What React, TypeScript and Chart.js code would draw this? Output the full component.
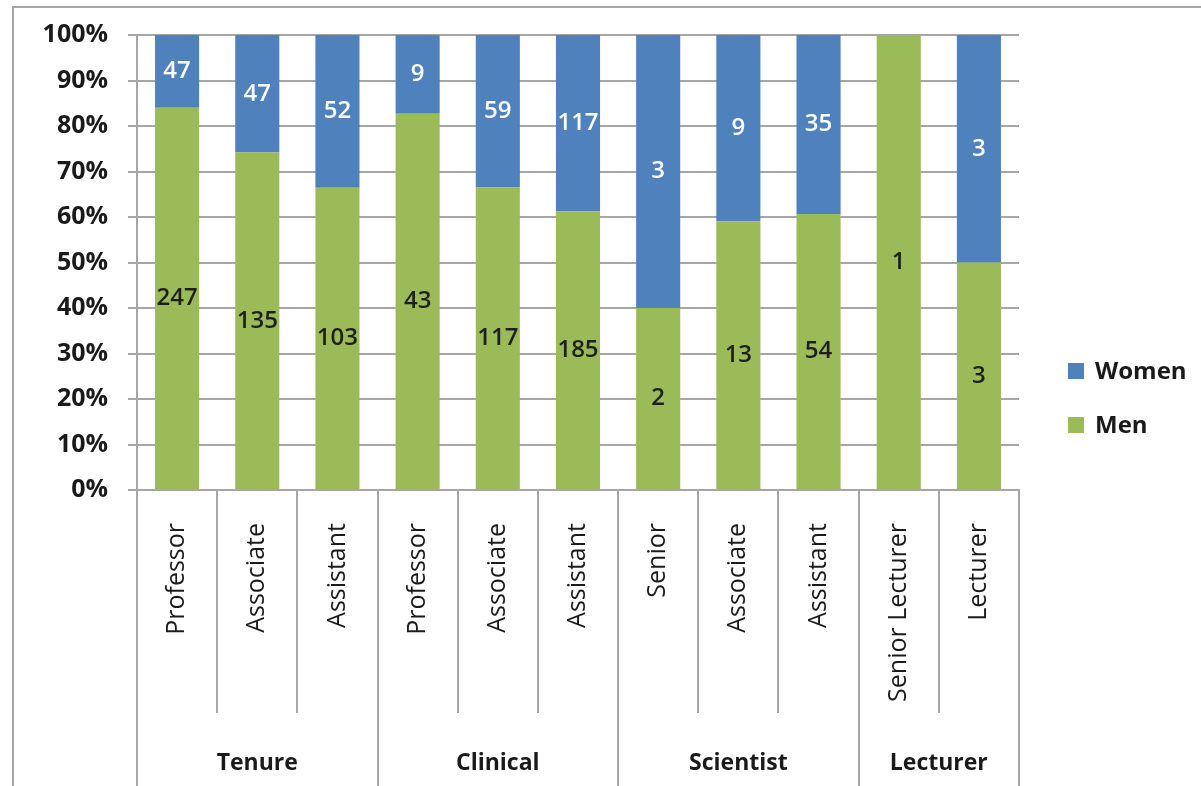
import { useEffect, useRef } from "react";
import { Chart, registerables } from "chart.js";

Chart.register(...registerables);

const categories = [
  "Professor", "Associate", "Assistant",
  "Professor", "Associate", "Assistant",
  "Senior", "Associate", "Assistant",
  "Senior Lecturer", "Lecturer",
];
const groupNames = ["Tenure", "Clinical", "Scientist", "Lecturer"];
const groupSizes = [3, 3, 3, 2];
const womenCounts = [47, 47, 52, 9, 59, 117, 3, 9, 35, 0, 3];
const menCounts = [247, 135, 103, 43, 117, 185, 2, 13, 54, 1, 3];
const seriesNames = ["Women", "Men"];
const seriesColors = ["#4f81bd", "#9bbb59"];

const FONT = "'Open Sans', 'Noto Sans', sans-serif";
const LINE = "#a6a6a6";

const womenPct = womenCounts.map((w, i) => (w / (w + menCounts[i])) * 100);
const menPct = menCounts.map((m, i) => (m / (womenCounts[i] + m)) * 100);

const decorPlugin = {
  id: "decor",
  afterDatasetsDraw(chart: any) {
    const ctx = chart.ctx;
    ctx.save();
    ctx.textAlign = "center";
    ctx.textBaseline = "middle";
    chart.data.datasets.forEach((ds: any, di: number) => {
      const meta = chart.getDatasetMeta(di);
      const counts = ds.counts as number[];
      meta.data.forEach((bar: any, i: number) => {
        if (!counts[i]) return;
        const cy = (bar.y + bar.base) / 2;
        ctx.fillStyle = ds.labelColor;
        ctx.font = `600 24px ${FONT}`;
        ctx.fillText(String(counts[i]), bar.x, cy);
      });
    });
    ctx.restore();
  },
  afterDraw(chart: any) {
    const ctx = chart.ctx;
    const area = chart.chartArea;
    const xs = chart.scales.x;
    const H = chart.height;
    ctx.save();
    // outer frame
    ctx.strokeStyle = LINE;
    ctx.lineWidth = 2;
    ctx.strokeRect(13, 7, chart.width + 50, H + 50);

    // category separators
    const n = categories.length;
    const boundary = (k: number) => {
      if (k === 0) return area.left;
      if (k === n) return area.right;
      return (xs.getPixelForValue(k - 1) + xs.getPixelForValue(k)) / 2;
    };
    const groupEdges = new Set<number>();
    let acc = 0;
    groupEdges.add(0);
    groupSizes.forEach((s) => {
      acc += s;
      groupEdges.add(acc);
    });
    ctx.strokeStyle = LINE;
    ctx.lineWidth = 2;
    for (let k = 0; k <= n; k++) {
      const x = Math.round(boundary(k));
      ctx.beginPath();
      ctx.moveTo(x, area.bottom);
      ctx.lineTo(x, groupEdges.has(k) ? H : area.bottom + 223);
      ctx.stroke();
    }
    // group labels
    ctx.fillStyle = "#1a1a1a";
    ctx.font = `bold 23px ${FONT}`;
    ctx.textAlign = "center";
    ctx.textBaseline = "middle";
    let start = 0;
    groupSizes.forEach((s, gi) => {
      const x0 = boundary(start);
      const x1 = boundary(start + s);
      ctx.fillText(groupNames[gi], (x0 + x1) / 2, area.bottom + 273);
      start += s;
    });

    // legend
    const lx = area.right + 49;
    const ly0 = 371;
    seriesNames.forEach((name, i) => {
      const ly = ly0 + i * 54;
      ctx.fillStyle = seriesColors[i];
      ctx.fillRect(lx, ly - 8, 16, 16);
      ctx.fillStyle = "#1a1a1a";
      ctx.font = `bold 24px ${FONT}`;
      ctx.textAlign = "left";
      ctx.fillText(name, lx + 27, ly + 1);
    });
    ctx.restore();
  },
};

export default function App() {
  const ref = useRef<HTMLCanvasElement>(null);
  useEffect(() => {
    if (!ref.current) return;
    const chart = new Chart(ref.current, {
      type: "bar",
      data: {
        labels: categories,
        datasets: [
          {
            label: seriesNames[1],
            data: menPct,
            backgroundColor: seriesColors[1],
            borderWidth: 0,
            barPercentage: 0.55,
            categoryPercentage: 1,
            counts: menCounts,
            labelColor: "#1f1f1f",
          } as any,
          {
            label: seriesNames[0],
            data: womenPct,
            backgroundColor: seriesColors[0],
            borderWidth: 0,
            barPercentage: 0.55,
            categoryPercentage: 1,
            counts: womenCounts,
            labelColor: "#ffffff",
          } as any,
        ],
      },
      options: {
        animation: false,
        responsive: false,
        devicePixelRatio: 1,
        layout: { padding: { top: 35, right: 182, left: 0, bottom: 0 } },
        plugins: {
          legend: { display: false },
          tooltip: { enabled: false },
          title: { display: false },
        },
        scales: {
          x: {
            stacked: true,
            grid: { display: true, drawOnChartArea: false, drawTicks: false },
            border: { display: true, color: LINE, width: 2 },
            ticks: {
              autoSkip: false,
              maxRotation: 90,
              minRotation: 90,
              padding: 33,
              color: "#1a1a1a",
              font: { family: FONT, size: 25 },
            },
            afterFit: (s: any) => {
              s.height = 296;
            },
          },
          y: {
            stacked: true,
            min: 0,
            max: 100,
            ticks: {
              stepSize: 10,
              padding: 20,
              color: "#1a1a1a",
              font: { family: FONT, size: 25, weight: "bold" },
              callback: (v: any) => `${v}%`,
            },
            grid: { color: LINE, lineWidth: 2, tickLength: 9 },
            border: { display: true, color: LINE, width: 2 },
            afterFit: (s: any) => {
              s.width = 137;
            },
          },
        },
      },
      plugins: [decorPlugin],
    });
    return () => chart.destroy();
  }, []);
  return (
    <div style={{ position: "absolute", left: 0, top: 0, width: 1201, height: 786, background: "#fff" }}>
      <canvas ref={ref} width={1201} height={786} style={{ width: 1201, height: 786 }} />
    </div>
  );
}
